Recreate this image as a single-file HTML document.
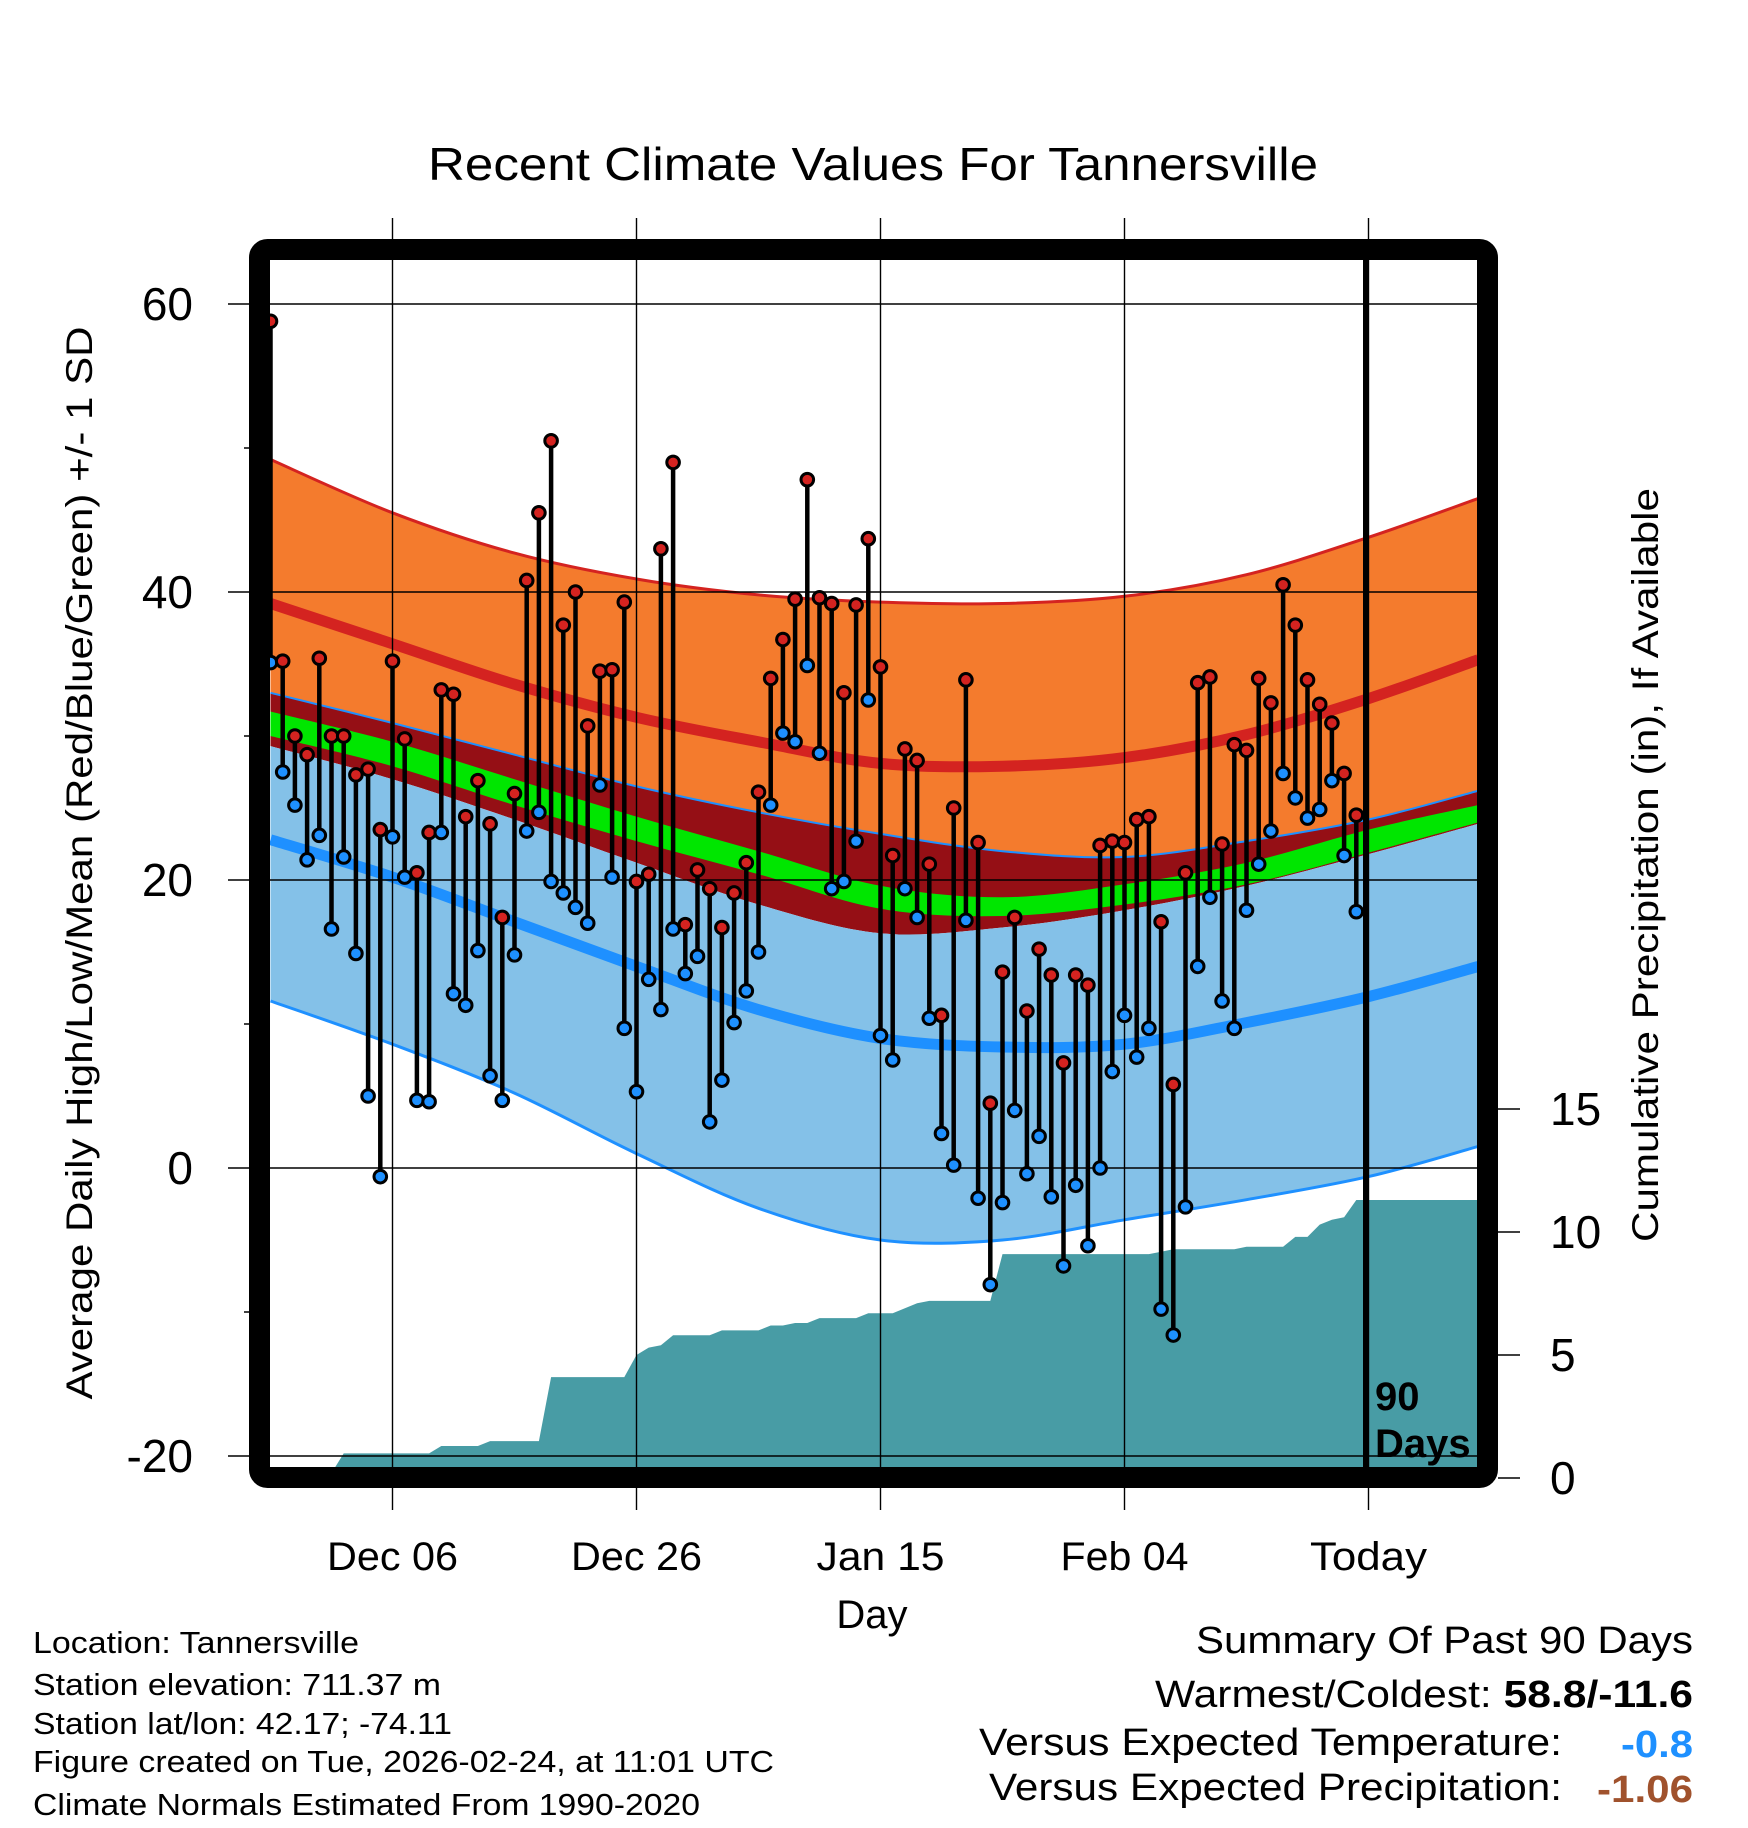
<!DOCTYPE html>
<html><head><meta charset="utf-8"><style>
html,body{margin:0;padding:0;background:#fff;}
svg{display:block;font-family:"Liberation Sans",Arial,sans-serif;}
</style></head><body>
<svg id="chart" width="1748" height="1828" viewBox="0 0 1748 1828" xmlns="http://www.w3.org/2000/svg">
<defs><clipPath id="plotClip"><rect x="270" y="260" width="1208" height="1208"/></clipPath></defs>
<text x="428" y="180" font-size="46" textLength="890" lengthAdjust="spacingAndGlyphs">Recent Climate Values For Tannersville</text>
<g id="grid"></g>
<g id="plot" clip-path="url(#plotClip)"></g>
<g id="overlay"></g>
<text transform="translate(92,863) rotate(-90)" font-size="37" text-anchor="middle" textLength="1073" lengthAdjust="spacingAndGlyphs">Average Daily High/Low/Mean (Red/Blue/Green) +/- 1 SD</text>
<text transform="translate(1658,865) rotate(-90)" font-size="37" text-anchor="middle" textLength="754" lengthAdjust="spacingAndGlyphs">Cumulative Precipitation (in), If Available</text>
<text x="872" y="1628" font-size="40" text-anchor="middle">Day</text>
<g font-size="31">
<text x="33" y="1653" textLength="326" lengthAdjust="spacingAndGlyphs">Location: Tannersville</text>
<text x="33" y="1695" textLength="408" lengthAdjust="spacingAndGlyphs">Station elevation: 711.37 m</text>
<text x="33" y="1734" textLength="419" lengthAdjust="spacingAndGlyphs">Station lat/lon: 42.17; -74.11</text>
<text x="33" y="1772" textLength="741" lengthAdjust="spacingAndGlyphs">Figure created on Tue, 2026-02-24, at 11:01 UTC</text>
<text x="33" y="1815" textLength="667" lengthAdjust="spacingAndGlyphs">Climate Normals Estimated From 1990-2020</text>
</g>
<g font-size="38">
<text x="1196" y="1653" textLength="497" lengthAdjust="spacingAndGlyphs">Summary Of Past 90 Days</text>
<text x="1155" y="1707" textLength="538" lengthAdjust="spacingAndGlyphs">Warmest/Coldest: <tspan font-weight="bold">58.8/-11.6</tspan></text>
<text x="979" y="1755" textLength="583" lengthAdjust="spacingAndGlyphs">Versus Expected Temperature:</text>
<text x="1621" y="1757" textLength="72" lengthAdjust="spacingAndGlyphs" font-weight="bold" fill="#1e90ff">-0.8</text>
<text x="989" y="1800" textLength="573" lengthAdjust="spacingAndGlyphs">Versus Expected Precipitation:</text>
<text x="1597" y="1802" textLength="96" lengthAdjust="spacingAndGlyphs" font-weight="bold" fill="#a0522d">-1.06</text>
</g>
</svg>
<script>
// daily observed values, 90 days ending day before today
const highs=[58.8,35.2,30.0,28.7,35.4,30.0,30.0,27.3,27.7,23.5,35.2,29.8,20.5,23.3,33.2,32.9,24.4,26.9,23.9,17.4,26.0,40.8,45.5,50.5,37.7,40.0,30.7,34.5,34.6,39.3,19.9,20.4,43.0,49.0,16.9,20.7,19.4,16.7,19.1,21.2,26.1,34.0,36.7,39.5,47.8,39.6,39.2,33.0,39.1,43.7,34.8,21.7,29.1,28.3,21.1,10.6,25.0,33.9,22.6,4.5,13.6,17.4,10.9,15.2,13.4,7.3,13.4,12.7,22.4,22.7,22.6,24.2,24.4,17.1,5.8,20.5,33.7,34.1,22.5,29.4,29.0,34.0,32.3,40.5,37.7,33.9,32.2,30.9,27.4,24.5];
const lows=[35.1,27.5,25.2,21.4,23.1,16.6,21.6,14.9,5.0,-0.6,23.0,20.2,4.7,4.6,23.3,12.1,11.3,15.1,6.4,4.7,14.8,23.4,24.7,19.9,19.1,18.1,17.0,26.6,20.2,9.7,5.3,13.1,11.0,16.6,13.5,14.7,3.2,6.1,10.1,12.3,15.0,25.2,30.2,29.6,34.9,28.8,19.4,19.9,22.7,32.5,9.2,7.5,19.4,17.4,10.4,2.4,0.2,17.2,-2.1,-8.1,-2.4,4.0,-0.4,2.2,-2.0,-6.8,-1.2,-5.4,0.0,6.7,10.6,7.7,9.7,-9.8,-11.6,-2.7,14.0,18.8,11.6,9.7,17.9,21.1,23.4,27.4,25.7,24.3,24.9,26.9,21.7,17.8];
const precip=[0,0,0,0,0,0.2,1.0,1.0,1.0,1.0,1.0,1.0,1.0,1.0,1.3,1.3,1.3,1.3,1.5,1.5,1.5,1.5,1.5,4.1,4.1,4.1,4.1,4.1,4.1,4.1,5.0,5.3,5.4,5.8,5.8,5.8,5.8,6.0,6.0,6.0,6.0,6.2,6.2,6.3,6.3,6.5,6.5,6.5,6.5,6.7,6.7,6.7,6.9,7.1,7.2,7.2,7.2,7.2,7.2,7.2,9.1,9.1,9.1,9.1,9.1,9.1,9.1,9.1,9.1,9.1,9.1,9.1,9.1,9.2,9.3,9.3,9.3,9.3,9.3,9.3,9.4,9.4,9.4,9.4,9.8,9.8,10.3,10.5,10.6,11.3];
// climate normal curves sampled at day offsets
const normDays=[0,10,20,30,40,50,60,70,80,90,99];
const highPlusSD=[49.2,45.5,42.7,40.9,39.8,39.3,39.2,39.7,41.2,43.8,46.5];
const meanHigh=[39.2,36.4,33.6,31.3,29.6,28.1,27.9,28.5,30.1,32.6,35.3];
const lowPlusSD=[33.0,30.9,28.7,26.5,24.7,23.2,22.0,21.6,22.7,24.2,26.2];
const meanTop=[31.7,29.6,27.0,24.4,22.0,19.6,18.8,19.7,21.2,23.5,25.2];
const meanBottom=[30.0,27.9,25.2,22.7,20.4,18.0,17.5,18.3,19.7,21.9,24.0];
const highMinusSD=[29.3,27.0,24.2,21.2,18.3,16.3,16.7,17.9,19.6,21.8,23.9];
const meanLow=[22.8,20.2,17.1,14.0,11.0,9.0,8.4,8.6,10.1,11.9,14.0];
const lowMinusSD=[11.6,8.6,5.2,1.0,-2.8,-5.0,-5.0,-3.6,-2.2,-0.6,1.5];
const yTicks=[60,40,20,0,-20];
const yMinor=[50,30,10,-10];
const precipTicks=[0,5,10,15];
const xTickDays=[10,30,50,70,90];
const xTickLabels=["Dec 06","Dec 26","Jan 15","Feb 04","Today"];
const xTickWidths=[131,131,128,128,117];
const todayDay=90, lastDay=99;

const NS="http://www.w3.org/2000/svg";
const X=d=>270.5+d*12.2;
const Y=t=>1168-t*14.4;
const YP=p=>1478-p*24.6;
function mk(tag,attrs,parent){const e=document.createElementNS(NS,tag);for(const k in attrs)e.setAttribute(k,attrs[k]);parent.appendChild(e);return e;}
function curvePts(vals){return normDays.map((d,i)=>[X(d),Y(vals[i])]);}
function spline(pts,move){let s=(move?"M":"L")+pts[0][0].toFixed(1)+","+pts[0][1].toFixed(1);
 for(let i=0;i<pts.length-1;i++){const p0=pts[Math.max(i-1,0)],p1=pts[i],p2=pts[i+1],p3=pts[Math.min(i+2,pts.length-1)];
  const c1=[p1[0]+(p2[0]-p0[0])/6,p1[1]+(p2[1]-p0[1])/6],c2=[p2[0]-(p3[0]-p1[0])/6,p2[1]-(p3[1]-p1[1])/6];
  s+="C"+c1[0].toFixed(1)+","+c1[1].toFixed(1)+" "+c2[0].toFixed(1)+","+c2[1].toFixed(1)+" "+p2[0].toFixed(1)+","+p2[1].toFixed(1);}
 return s;}
function band(top,bot){const a=curvePts(top),b=curvePts(bot).reverse();return spline(a,true)+spline(b,false)+"Z";}
const plot=document.getElementById('plot'),grid=document.getElementById('grid'),ov=document.getElementById('overlay');
const svg=document.getElementById('chart');

let e;
e=mk('path',{d:band(highPlusSD,lowPlusSD),fill:'#f47b2d'},plot);


e=mk('path',{d:band(lowPlusSD,highMinusSD),fill:'#950f15'},plot);


e=mk('path',{d:band(meanTop,meanBottom),fill:'#00e600'},plot);


e=mk('path',{d:band(highMinusSD,lowMinusSD),fill:'#84c1e8'},plot);


e=mk('path',{d:spline(curvePts(highPlusSD),true),fill:'none',stroke:'#d42320','stroke-width':3},plot);


e=mk('path',{d:spline(curvePts(meanHigh),true),fill:'none',stroke:'#d42320','stroke-width':11},plot);


e=mk('path',{d:spline(curvePts(lowPlusSD),true),fill:'none',stroke:'#1e90ff','stroke-width':2},plot);


e=mk('path',{d:spline(curvePts(meanLow),true),fill:'none',stroke:'#1e90ff','stroke-width':11},plot);


e=mk('path',{d:spline(curvePts(lowMinusSD),true),fill:'none',stroke:'#1e90ff','stroke-width':3},plot);



// precipitation area (linear between days)
let pd="M"+X(0)+","+YP(0);
precip.forEach((p,i)=>{pd+="L"+X(i).toFixed(1)+","+YP(p).toFixed(1);});
pd+="L"+X(lastDay+1)+","+YP(precip[precip.length-1]).toFixed(1)+"L"+X(lastDay+1)+","+YP(0)+"Z";
e=mk('path',{d:pd,fill:'#489ca5'},plot);



// gridlines and ticks
yTicks.forEach(t=>{
 e=mk('line',{x1:228,x2:1478,y1:Y(t),y2:Y(t),stroke:'#000','stroke-width':1.6},ov);
 
 
 e=mk('text',{x:193,y:Y(t)+16,'font-size':46,'text-anchor':'end'},ov);
 e.textContent=t;
 
 
});
yMinor.forEach(t=>{
 e=mk('line',{x1:244,x2:262,y1:Y(t),y2:Y(t),stroke:'#000','stroke-width':1.6},ov);
 
 
});
xTickDays.forEach((d,i)=>{
 e=mk('line',{x1:X(d),x2:X(d),y1:218,y2:1510,stroke:'#000','stroke-width':1.4},ov);
 
 
 e=mk('text',{x:X(d)-xTickWidths[i]/2,y:1570,'font-size':40,textLength:xTickWidths[i],lengthAdjust:'spacingAndGlyphs'},svg);
 e.textContent=xTickLabels[i];
 
 
});
precipTicks.forEach(p=>{
 e=mk('line',{x1:1498,x2:1520,y1:YP(p),y2:YP(p),stroke:'#000','stroke-width':1.6},ov);
 
 
 e=mk('text',{x:1550,y:YP(p)+16,'font-size':46},ov);
 e.textContent=p;
 
 
});

// stems and points
highs.forEach((h,i)=>{
 e=mk('line',{x1:X(i),x2:X(i),y1:Y(h),y2:Y(lows[i]),stroke:'#000','stroke-width':4.5},ov);
 
 
});
highs.forEach((h,i)=>{
 e=mk('circle',{cx:X(i),cy:Y(h),r:6.3,fill:'#d42320',stroke:'#000','stroke-width':3},ov);
 
 
 e=mk('circle',{cx:X(i),cy:Y(lows[i]),r:6.3,fill:'#1e90ff',stroke:'#000','stroke-width':3},ov);
 
 
});

// today line
e=mk('line',{x1:X(todayDay)-3,x2:X(todayDay)-3,y1:250,y2:1478,stroke:'#000','stroke-width':5},ov);


e=mk('text',{x:1375,y:1410,'font-size':40,'font-weight':'bold'},ov);
e.textContent='90';


e=mk('text',{x:1375,y:1457,'font-size':40,'font-weight':'bold'},ov);
e.textContent='Days';



// frame
e=mk('rect',{x:259.5,y:249.5,width:1228,height:1228,rx:8,fill:'none',stroke:'#000','stroke-width':21},ov);


</script>
</body></html>
